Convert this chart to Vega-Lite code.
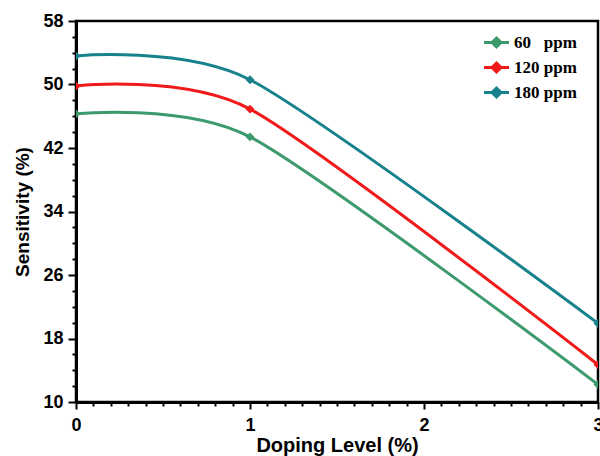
{
  "$schema": "https://vega.github.io/schema/vega-lite/v6.json",
  "width": 522,
  "height": 381,
  "autosize": {"type": "none"},
  "padding": {"left": 76, "top": 21, "right": 2, "bottom": 54},
  "background": "white",
  "config": {
    "view": {"stroke": "black", "strokeWidth": 2.5},
    "axis": {
      "grid": false,
      "domainColor": "black",
      "domainWidth": 3,
      "tickColor": "black",
      "tickWidth": 2,
      "labelFont": "Liberation Sans",
      "labelFontWeight": "bold",
      "labelFontSize": 18,
      "labelColor": "black",
      "titleFont": "Liberation Sans",
      "titleFontWeight": "bold",
      "titleColor": "black"
    }
  },
  "data": {
    "values": [
      {"doping": 0, "sensitivity": 46.3, "series": "60\u00a0\u00a0\u00a0ppm"},
      {"doping": 1, "sensitivity": 43.4, "series": "60\u00a0\u00a0\u00a0ppm"},
      {"doping": 3, "sensitivity": 12.2, "series": "60\u00a0\u00a0\u00a0ppm"},
      {"doping": 0, "sensitivity": 49.8, "series": "120 ppm"},
      {"doping": 1, "sensitivity": 46.9, "series": "120 ppm"},
      {"doping": 3, "sensitivity": 14.7, "series": "120 ppm"},
      {"doping": 0, "sensitivity": 53.6, "series": "180 ppm"},
      {"doping": 1, "sensitivity": 50.6, "series": "180 ppm"},
      {"doping": 3, "sensitivity": 19.9, "series": "180 ppm"}
    ]
  },
  "encoding": {
    "x": {
      "field": "doping",
      "type": "quantitative",
      "scale": {"domain": [0, 3], "nice": false, "zero": false},
      "axis": {
        "title": "Doping Level (%)",
        "titleFontSize": 20,
        "values": [0, 0.1, 0.2, 0.3, 0.4, 0.5, 0.6, 0.7, 0.8, 0.9, 1, 1.1, 1.2, 1.3, 1.4, 1.5, 1.6, 1.7, 1.8, 1.9, 2, 2.1, 2.2, 2.3, 2.4, 2.5, 2.6, 2.7, 2.8, 2.9, 3],
        "labelExpr": "datum.value === round(datum.value) ? format(datum.value, 'd') : ''",
        "tickSize": {"condition": {"test": "datum.value === round(datum.value)", "value": 7}, "value": 4},
        "labelPadding": 7,
        "titlePadding": 1,
        "labelFlush": false,
        "labelOverlap": false
      }
    },
    "y": {
      "field": "sensitivity",
      "type": "quantitative",
      "scale": {"domain": [10, 58], "nice": false, "zero": false},
      "axis": {
        "title": "Sensitivity (%)",
        "titleFontSize": 19,
        "values": [10, 12, 14, 16, 18, 20, 22, 24, 26, 28, 30, 32, 34, 36, 38, 40, 42, 44, 46, 48, 50, 52, 54, 56, 58],
        "labelExpr": "datum.value % 8 === 2 ? datum.label : ''",
        "tickSize": {"condition": {"test": "datum.value % 8 === 2", "value": 8}, "value": 4},
        "labelPadding": 5,
        "titlePadding": 10,
        "labelFlush": false,
        "labelOverlap": false
      }
    },
    "color": {
      "field": "series",
      "type": "nominal",
      "scale": {
        "domain": ["60\u00a0\u00a0\u00a0ppm", "120 ppm", "180 ppm"],
        "range": ["#3c9a6c", "#f01a1a", "#17818c"]
      },
      "legend": {
        "title": null,
        "orient": "none",
        "legendX": 409,
        "legendY": 10,
        "padding": 0,
        "symbolType": "M-1.25,0H1.25M0,-0.45L0.45,0L0,0.45L-0.45,0Z",
        "symbolSize": 400,
        "symbolStrokeWidth": 3,
        "labelFont": "Liberation Serif",
        "labelFontWeight": "bold",
        "labelFontSize": 17,
        "labelColor": "black",
        "labelOffset": 6,
        "rowPadding": 3,
        "encode": {
          "symbols": {
            "update": {
              "fill": {"scale": "color", "field": "value"},
              "stroke": {"scale": "color", "field": "value"},
              "opacity": {"value": 1}
            }
          }
        }
      }
    }
  },
  "layer": [
    {
      "mark": {"type": "line", "interpolate": "cardinal", "tension": 0.25, "strokeWidth": 3, "clip": true}
    },
    {
      "mark": {"type": "point", "shape": "diamond", "filled": true, "size": 80, "opacity": 1, "clip": true}
    }
  ]
}
